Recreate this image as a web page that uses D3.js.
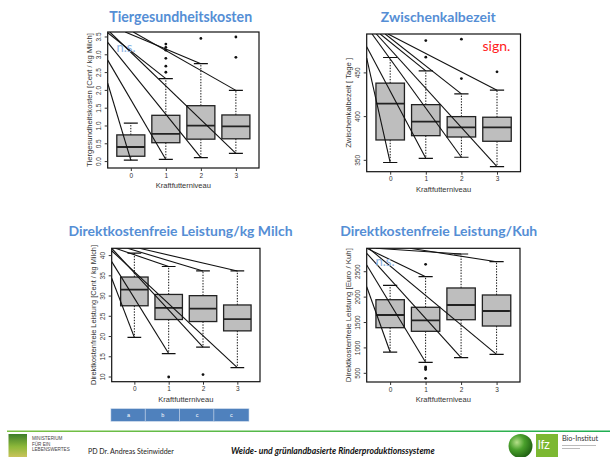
<!DOCTYPE html>
<html>
<head>
<meta charset="utf-8">
<script src="https://cdn.jsdelivr.net/npm/d3@7"></script>
<style>
  body { margin: 0; background: #fff; }
  svg { display: block; }
</style>
</head>
<body>
<svg id="chart" width="610" height="457"></svg>
<script>
// Feeding levels on the x axis
const groups = ["0", "1", "2", "3"];
const xAxisTitle = "Kraftfutterniveau";

// Box statistics per level: [lower whisker, Q1, median, Q3, upper whisker]
const healthStats = [
  [0.04, 0.15, 0.41, 0.75, 1.08],
  [0.06, 0.53, 0.78, 1.30, 2.33],
  [0.11, 0.63, 1.01, 1.57, 2.75],
  [0.23, 0.64, 0.99, 1.31, 2.00]
];
const healthOutliers = [[1, 3.30], [1, 3.21], [1, 3.13], [1, 2.90], [1, 2.68], [1, 2.51], [2, 3.46], [3, 3.50], [3, 2.93]];
const healthTicks = [0, 0.5, 1, 1.5, 2, 2.5, 3, 3.5];
const healthDomain = [-0.18, 3.64];

const calvingStats = [
  [347.5, 373.3, 414.9, 438.3, 467.6],
  [352.3, 378.2, 394.3, 413.7, 452.3],
  [353.5, 376.7, 387.8, 400.0, 426.0],
  [342.7, 371.8, 387.8, 399.3, 430.2]
];
const calvingOutliers = [[1, 487], [1, 468], [2, 488.6], [2, 443.5], [3, 451.2]];
const calvingTicks = [350, 400, 450];
const calvingDomain = [337, 494.5];

const marginMilkStats = [
  [19.8, 27.6, 31.6, 34.7, 40.6],
  [15.8, 24.2, 27.1, 30.4, 37.3],
  [17.4, 23.7, 26.9, 30.1, 36.2],
  [12.3, 21.4, 24.3, 27.8, 36.2]
];
const marginMilkOutliers = [[1, 10.0], [2, 10.6]];
const marginMilkTicks = [10, 15, 20, 25, 30, 35, 40];
const marginMilkDomain = [8.84, 41.8];
const marginMilkLetters = ["a", "b", "c", "c"];

const marginCowStats = [
  [919, 1398, 1648, 1949, 2230],
  [717, 1327, 1544, 1800, 2402],
  [807, 1555, 1845, 2180, 2849],
  [874, 1431, 1727, 2042, 2697]
];
const marginCowOutliers = [[1, 2646], [1, 624], [1, 604], [1, 575], [1, 402]];
const marginCowTicks = [500, 1000, 1500, 2000, 2500];
const marginCowDomain = [329, 2961];

// Stray connector strokes: [start level, start value, box index, whisker end (0 = lower, 4 = upper)]
const healthFans = [[-0.66, 2.20, 0, 0], [-0.66, 2.85, 1, 0], [-0.66, 3.35, 2, 0], [-0.60, 3.64, 3, 0], [-0.66, 3.62, 1, 4], [-0.16, 3.64, 2, 4], [0.07, 3.64, 3, 4]];
const calvingFans = [[-0.66, 467, 0, 0], [-0.66, 480, 1, 0], [-0.51, 494.5, 2, 0], [-0.39, 494.5, 3, 0], [-0.28, 494.5, 1, 4], [-0.14, 494.5, 2, 4], [-0.06, 494.5, 3, 4]];
const marginMilkFans = [[-0.66, 34.4, 0, 0], [-0.66, 38.5, 1, 0], [-0.66, 41.8, 2, 0], [-0.66, 41.2, 3, 0], [-0.55, 41.8, 1, 4], [-0.2, 41.8, 2, 4], [0.15, 41.8, 3, 4]];
const marginCowFans = [[-0.66, 2205, 0, 0], [-0.66, 2632, 1, 0], [-0.66, 2863, 2, 0], [-0.60, 2961, 3, 0], [-0.66, 2961, 1, 4], [-0.4, 2961, 2, 4], [0.56, 2961, 3, 4]];

const svg = d3.select("#chart");

// Scale a text element's font so that it spans the given width
function fitText(sel, width) {
  const node = sel.node();
  const size = parseFloat(sel.attr("font-size"));
  const len = node.getComputedTextLength();
  if (len > 0) sel.attr("font-size", (size * width / len).toFixed(2));
  return sel;
}

const panels = [
  { title: "Tiergesundheitskosten", tx: 180.7, ty: 17, tw: 143,
    ylabel: "Tiergesundheitskosten [Cent / kg Milch]", yw: 134,
    frame: { l: 107.7, r: 259, t: 32, b: 168 },
    domain: healthDomain, ticks: healthTicks, fmt: d3.format(".1f"),
    stats: healthStats, outliers: healthOutliers, fans: healthFans,
    note: { text: "n.s.", x: 116.5, y: 52, color: "#8db3e2", size: 13 } },
  { title: "Zwischenkalbezeit", tx: 438.3, ty: 17, tw: 115,
    ylabel: "Zwischenkalbezeit [ Tage ]", yw: 90,
    frame: { l: 366.7, r: 520.5, t: 34, b: 171.7 },
    domain: calvingDomain, ticks: calvingTicks, fmt: d3.format("d"),
    stats: calvingStats, outliers: calvingOutliers, fans: calvingFans,
    note: { text: "sign.", x: 482.5, y: 51, color: "#ff1a1a", size: 14 } },
  { title: "Direktkostenfreie Leistung/kg Milch", tx: 180.5, ty: 230.5, tw: 224,
    ylabel: "Direktkostenfreie Leistung [Cent / kg Milch]", yw: 140,
    frame: { l: 111.7, r: 260, t: 248.3, b: 381.7 },
    domain: marginMilkDomain, ticks: marginMilkTicks, fmt: d3.format("d"),
    stats: marginMilkStats, outliers: marginMilkOutliers, fans: marginMilkFans,
    letters: marginMilkLetters },
  { title: "Direktkostenfreie Leistung/Kuh", tx: 438.7, ty: 230.5, tw: 197,
    ylabel: "Direktkostenfreie Leistung [Euro / Kuh]", yw: 134,
    frame: { l: 366.7, r: 520, t: 248.3, b: 382 },
    domain: marginCowDomain, ticks: marginCowTicks, fmt: d3.format("d"),
    stats: marginCowStats, outliers: marginCowOutliers, fans: marginCowFans,
    note: { text: "n.s.", x: 375.5, y: 265.5, color: "#8db3e2", size: 13 } }
];

const defs = svg.append("defs");

panels.forEach((p, pi) => {
  const f = p.frame;
  const x = d3.scaleLinear().domain([-0.66, 3.66]).range([f.l, f.r]);
  const y = d3.scaleLinear().domain(p.domain).range([f.b, f.t]);
  const g = svg.append("g");

  // Title
  const title = g.append("text")
    .attr("x", p.tx).attr("y", p.ty + 5)
    .attr("text-anchor", "middle")
    .attr("font-family", "Lato, 'Open Sans', sans-serif")
    .attr("font-weight", 700)
    .attr("font-size", 14)
    .attr("fill", "#558ed5")
    .text(p.title);
  fitText(title, p.tw);

  const clipId = "clip" + pi;
  defs.append("clipPath").attr("id", clipId)
    .append("rect").attr("x", f.l).attr("y", f.t)
    .attr("width", f.r - f.l).attr("height", f.b - f.t);

  const plot = g.append("g").attr("clip-path", `url(#${clipId})`);
  const half = x(0.4) - x(0);
  const cap = x(0.2) - x(0);

  p.stats.forEach((s, i) => {
    const cx = x(i);
    // whiskers (dashed)
    plot.append("line").attr("x1", cx).attr("x2", cx).attr("y1", y(s[3])).attr("y2", y(s[4]))
      .attr("stroke", "#111").attr("stroke-width", 1).attr("stroke-dasharray", "1.4,1.4");
    plot.append("line").attr("x1", cx).attr("x2", cx).attr("y1", y(s[1])).attr("y2", y(s[0]))
      .attr("stroke", "#111").attr("stroke-width", 1).attr("stroke-dasharray", "1.4,1.4");
    // caps
    [s[0], s[4]].forEach(v => {
      plot.append("line").attr("x1", cx - cap).attr("x2", cx + cap).attr("y1", y(v)).attr("y2", y(v))
        .attr("stroke", "#111").attr("stroke-width", 1.2);
    });
    // box
    plot.append("rect").attr("x", cx - half).attr("width", 2 * half)
      .attr("y", y(s[3])).attr("height", y(s[1]) - y(s[3]))
      .attr("fill", "#bebebe").attr("stroke", "#222").attr("stroke-width", 1.3);
    // median
    plot.append("line").attr("x1", cx - half).attr("x2", cx + half).attr("y1", y(s[2])).attr("y2", y(s[2]))
      .attr("stroke", "#222").attr("stroke-width", 1.8);
  });

  // outliers
  plot.selectAll("circle.out").data(p.outliers).join("circle")
    .attr("cx", d => x(d[0])).attr("cy", d => y(d[1])).attr("r", 1.4).attr("fill", "#111");

  // connector strokes
  p.fans.forEach(d => {
    plot.append("line")
      .attr("x1", x(d[0])).attr("y1", y(d[1]))
      .attr("x2", x(d[2])).attr("y2", y(p.stats[d[2]][d[3]]))
      .attr("stroke", "#111").attr("stroke-width", 1.1);
  });

  // frame
  g.append("rect").attr("x", f.l).attr("y", f.t).attr("width", f.r - f.l).attr("height", f.b - f.t)
    .attr("fill", "none").attr("stroke", "#111").attr("stroke-width", 1.2);

  // y axis
  const yAxis = g.append("g").attr("transform", `translate(${f.l},0)`)
    .call(d3.axisLeft(y).tickValues(p.ticks).tickFormat(p.fmt).tickSize(3).tickPadding(0));
  yAxis.select(".domain").remove();
  yAxis.selectAll("line").attr("stroke", "#333");
  yAxis.selectAll("text")
    .attr("font-family", "'Liberation Sans', Arial, sans-serif")
    .attr("font-size", 6.5).attr("fill", "#333")
    .attr("text-anchor", "middle")
    .attr("x", 0).attr("dy", 0)
    .attr("transform", d => `translate(-7,${y(d)}) rotate(-90)`)
    .attr("y", 0);
  yAxis.selectAll(".tick").attr("transform", d => `translate(0,0)`);
  yAxis.selectAll(".tick line").attr("y1", d => y(d)).attr("y2", d => y(d));

  // x axis
  const xAxis = g.append("g").attr("transform", `translate(0,${f.b})`)
    .call(d3.axisBottom(x).tickValues([0, 1, 2, 3]).tickFormat(i => groups[i]).tickSize(3).tickPadding(2));
  xAxis.select(".domain").remove();
  xAxis.selectAll("line").attr("stroke", "#333");
  xAxis.selectAll("text")
    .attr("font-family", "'Liberation Sans', Arial, sans-serif")
    .attr("font-size", 6.5).attr("fill", "#333");

  g.append("text").attr("x", (f.l + f.r) / 2).attr("y", f.b + 20)
    .attr("text-anchor", "middle")
    .attr("font-family", "'Liberation Sans', Arial, sans-serif")
    .attr("font-size", 7.5).attr("fill", "#333")
    .text(xAxisTitle);

  const yl = g.append("text")
    .attr("transform", `translate(${f.l - 16},${(f.t + f.b) / 2}) rotate(-90)`)
    .attr("text-anchor", "middle")
    .attr("font-family", "'Liberation Sans', Arial, sans-serif")
    .attr("font-size", 7.5).attr("fill", "#333")
    .text(p.ylabel);
  fitText(yl, p.yw);

  if (p.note) {
    g.append("text").attr("x", p.note.x).attr("y", p.note.y)
      .attr("font-family", "Lato, 'Open Sans', sans-serif")
      .attr("font-size", p.note.size).attr("fill", p.note.color)
      .text(p.note.text);
  }

  if (p.letters) {
    const lg = g.append("g");
    p.letters.forEach((t, i) => {
      lg.append("rect").attr("x", x(i) - 23.5).attr("y", 408.5).attr("width", 35.2).attr("height", 13)
        .attr("fill", "#4f81bd").attr("stroke", "#dfe7f2").attr("stroke-width", 0.6);
      lg.append("text").attr("x", x(i) - 23.5 + 17.6).attr("y", 417)
        .attr("text-anchor", "middle")
        .attr("font-family", "'Liberation Sans', Arial, sans-serif")
        .attr("font-size", 5.5).attr("fill", "#fff").text(t);
    });
  }
});

// Footer
const foot = svg.append("g");
const lineGrad = defs.append("linearGradient").attr("id", "footLine");
lineGrad.append("stop").attr("offset", "0%").attr("stop-color", "#7bc043");
lineGrad.append("stop").attr("offset", "100%").attr("stop-color", "#1fae52");
foot.append("rect").attr("x", 7).attr("y", 430.5).attr("width", 603).attr("height", 1.5).attr("fill", "url(#footLine)");

const leafGrad = defs.append("linearGradient").attr("id", "leaf").attr("x1", 0).attr("y1", 0).attr("x2", 0).attr("y2", 1);
leafGrad.append("stop").attr("offset", "0%").attr("stop-color", "#3d7d2a");
leafGrad.append("stop").attr("offset", "55%").attr("stop-color", "#8db83a");
leafGrad.append("stop").attr("offset", "100%").attr("stop-color", "#c9c35a");
foot.append("rect").attr("x", 8.5).attr("y", 434).attr("width", 18.5).attr("height", 23).attr("fill", "url(#leaf)");

["MINISTERIUM", "FÜR EIN", "LEBENSWERTES"].forEach((t, i) => {
  foot.append("text").attr("x", 32).attr("y", 440 + i * 5.5)
    .attr("font-family", "'Liberation Sans', Arial, sans-serif")
    .attr("font-size", 4.6).attr("fill", "#444").text(t);
});

foot.append("text").attr("x", 88).attr("y", 453.5)
  .attr("font-family", "Lato, 'Open Sans', sans-serif")
  .attr("font-size", 7).attr("fill", "#222")
  .text("PD Dr. Andreas Steinwidder")
  .call(s => fitText(s, 86));

foot.append("text").attr("x", 231).attr("y", 453.5)
  .attr("font-family", "Lato, 'Open Sans', sans-serif")
  .attr("font-size", 7).attr("font-weight", 700).attr("font-style", "italic").attr("fill", "#111")
  .text("Weide- und grünlandbasierte Rinderproduktionssysteme")
  .call(s => fitText(s, 204));

const sphere = defs.append("radialGradient").attr("id", "sphere").attr("cx", "35%").attr("cy", "35%").attr("r", "70%");
sphere.append("stop").attr("offset", "0%").attr("stop-color", "#b6e08a");
sphere.append("stop").attr("offset", "45%").attr("stop-color", "#4aa02c");
sphere.append("stop").attr("offset", "100%").attr("stop-color", "#1e5f12");
foot.append("circle").attr("cx", 520.5).attr("cy", 446).attr("r", 12).attr("fill", "url(#sphere)");

foot.append("rect").attr("x", 536).attr("y", 434).attr("width", 22).attr("height", 23).attr("fill", "#7cb832");
foot.append("text").attr("x", 538).attr("y", 449)
  .attr("font-family", "'Liberation Sans', Arial, sans-serif")
  .attr("font-size", 12).attr("fill", "#fff").text("lfz");

foot.append("text").attr("x", 562).attr("y", 440.5)
  .attr("font-family", "Lato, 'Open Sans', sans-serif")
  .attr("font-size", 9).attr("fill", "#333").text("Bio-Institut")
  .call(s => fitText(s, 36));
foot.append("rect").attr("x", 562).attr("y", 445).attr("width", 34).attr("height", 1).attr("fill", "#bbb");
foot.append("rect").attr("x", 562).attr("y", 448).attr("width", 18).attr("height", 1).attr("fill", "#bbb");
</script>
</body>
</html>
